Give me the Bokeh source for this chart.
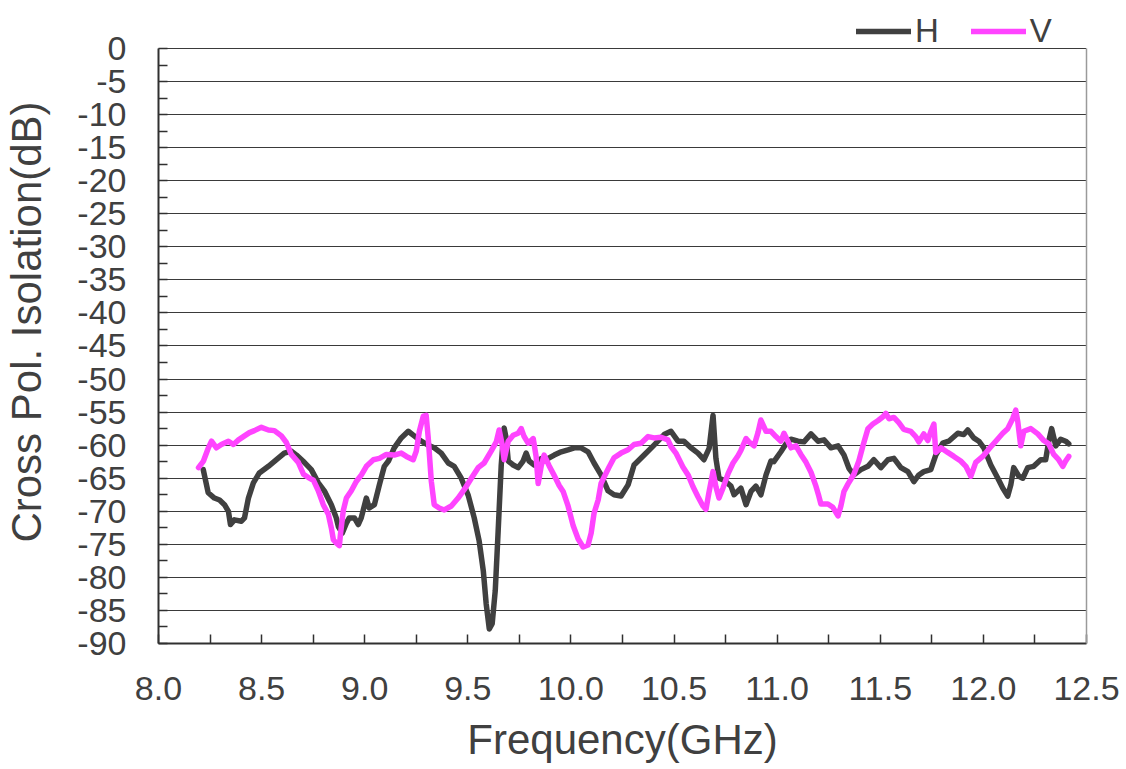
from bokeh.plotting import figure
from bokeh.models import FixedTicker, Range1d, Legend, LegendItem, LinearAxis
from bokeh.embed import file_html
from bokeh.resources import INLINE

# ---- data ----
h_freq = [8.217, 8.241, 8.271, 8.296, 8.320, 8.339, 8.349, 8.368, 8.402, 8.417, 8.436, 8.460, 8.489, 8.533,
          8.572, 8.610, 8.644, 8.669, 8.707, 8.741, 8.775, 8.804, 8.838, 8.862, 8.872, 8.891, 8.911, 8.925,
          8.950, 8.969, 8.983, 9.008, 9.022, 9.047, 9.071, 9.095, 9.115, 9.143, 9.177, 9.211, 9.240, 9.274,
          9.308, 9.337, 9.371, 9.405, 9.434, 9.468, 9.502, 9.531, 9.555, 9.575, 9.589, 9.604, 9.618, 9.633,
          9.647, 9.662, 9.676, 9.686, 9.696, 9.720, 9.744, 9.768, 9.783, 9.797, 9.822, 9.856, 9.890, 9.919,
          9.953, 9.986, 10.016, 10.049, 10.083, 10.112, 10.146, 10.180, 10.209, 10.243, 10.277, 10.306,
          10.355, 10.403, 10.452, 10.485, 10.519, 10.548, 10.582, 10.616, 10.645, 10.670, 10.689, 10.703,
          10.718, 10.742, 10.776, 10.791, 10.824, 10.849, 10.873, 10.897, 10.921, 10.946, 10.970, 10.984,
          11.018, 11.043, 11.067, 11.101, 11.130, 11.164, 11.198, 11.227, 11.261, 11.295, 11.324, 11.348,
          11.372, 11.406, 11.440, 11.469, 11.503, 11.537, 11.566, 11.600, 11.634, 11.663, 11.687, 11.711,
          11.745, 11.769, 11.803, 11.832, 11.876, 11.905, 11.924, 11.953, 11.978, 12.002, 12.036, 12.070,
          12.094, 12.118, 12.133, 12.147, 12.172, 12.191, 12.215, 12.244, 12.278, 12.302, 12.317, 12.331,
          12.351, 12.375, 12.399, 12.414]
h_db = [-63.7, -67.2, -68.0, -68.3, -69.0, -70.0, -72.0, -71.3, -71.5, -71.0, -68.0, -65.7, -64.2, -63.2,
        -62.2, -61.2, -60.9, -61.5, -62.6, -63.7, -65.7, -66.9, -69.0, -71.0, -72.3, -73.3, -71.8, -71.0,
        -71.0, -72.0, -71.0, -68.0, -69.5, -69.0, -66.0, -63.2, -62.4, -60.4, -58.9, -57.9, -58.6, -59.4,
        -60.0, -60.4, -61.2, -62.7, -63.2, -65.0, -67.6, -71.0, -74.5, -79.0, -84.0, -87.8, -87.0, -82.0,
        -73.0, -63.0, -57.4, -59.0, -62.4, -63.0, -63.4, -62.4, -61.2, -62.4, -63.0, -62.0, -62.0, -61.5,
        -61.0, -60.7, -60.4, -60.4, -61.0, -62.7, -64.5, -66.9, -67.5, -67.7, -66.0, -63.0,
        -61.5, -60.0, -58.4, -57.9, -59.4, -59.4, -60.4, -61.2, -62.2, -60.5, -55.5, -62.0,
        -65.0, -65.3, -66.2, -67.5, -66.5, -69.0, -67.0, -66.2, -67.5, -64.5, -62.4, -62.5,
        -61.0, -59.8, -59.1, -59.4, -59.5, -58.3, -59.4, -59.2, -60.4, -60.1, -61.5, -63.5,
        -64.5, -63.7, -63.2, -62.2, -63.4, -62.2, -62.0, -63.4, -64.0, -65.5, -64.5, -64.0,
        -63.7, -61.5, -59.7, -59.4, -58.2, -58.4, -57.7, -58.9, -59.4, -60.4, -63.0, -65.0,
        -66.5, -67.7, -66.0, -63.4, -64.7, -65.0, -63.4, -63.2, -62.2, -62.2, -59.4, -57.5,
        -60.1, -59.1, -59.4, -59.8]

v_freq = [8.194, 8.218, 8.242, 8.257, 8.281, 8.305, 8.339, 8.363, 8.388, 8.417, 8.441, 8.465, 8.499, 8.533,
          8.562, 8.596, 8.620, 8.644, 8.678, 8.703, 8.727, 8.751, 8.775, 8.799, 8.824, 8.838, 8.848, 8.862,
          8.877, 8.882, 8.896, 8.911, 8.935, 8.959, 8.984, 9.008, 9.042, 9.071, 9.105, 9.143, 9.177, 9.202,
          9.235, 9.250, 9.265, 9.284, 9.298, 9.308, 9.323, 9.337, 9.361, 9.386, 9.420, 9.453, 9.483, 9.517,
          9.550, 9.579, 9.613, 9.638, 9.652, 9.667, 9.676, 9.696, 9.720, 9.744, 9.759, 9.773, 9.793, 9.817,
          9.831, 9.841, 9.856, 9.870, 9.894, 9.919, 9.943, 9.962, 9.986, 10.011, 10.035, 10.059, 10.083,
          10.098, 10.112, 10.132, 10.146, 10.161, 10.185, 10.209, 10.243, 10.277, 10.306, 10.340, 10.374,
          10.403, 10.437, 10.470, 10.485, 10.509, 10.543, 10.568, 10.592, 10.616, 10.640, 10.655, 10.669,
          10.689, 10.703, 10.718, 10.737, 10.762, 10.786, 10.810, 10.824, 10.849, 10.863, 10.888, 10.907,
          10.921, 10.946, 10.970, 10.994, 11.018, 11.033, 11.052, 11.067, 11.091, 11.115, 11.140, 11.164,
          11.188, 11.202, 11.212, 11.246, 11.270, 11.295, 11.309, 11.324, 11.343, 11.372, 11.396, 11.416,
          11.440, 11.464, 11.488, 11.513, 11.527, 11.542, 11.566, 11.590, 11.614, 11.648, 11.672, 11.687,
          11.711, 11.731, 11.745, 11.760, 11.769, 11.794, 11.827, 11.857, 11.890, 11.915, 11.939, 11.963,
          11.997, 12.026, 12.060, 12.094, 12.118, 12.142, 12.157, 12.167, 12.181, 12.196, 12.230, 12.264,
          12.293, 12.317, 12.341, 12.365, 12.385, 12.399, 12.414]
v_db = [-63.4, -62.4, -60.4, -59.4, -60.4, -59.9, -59.4, -59.9, -59.2, -58.6, -58.1, -57.8, -57.3, -57.7,
        -57.8, -58.6, -59.6, -61.4, -62.6, -64.4, -64.9, -65.3, -66.9, -69.0, -70.5, -72.5, -74.3, -74.8,
        -75.2, -73.6, -69.9, -68.0, -66.9, -65.5, -64.5, -63.2, -62.2, -62.0, -61.4, -61.5, -61.2, -61.7,
        -62.2, -60.9, -57.9, -55.6, -55.5, -58.9, -65.5, -69.0, -69.5, -69.8, -69.2, -68.0, -66.7, -65.0,
        -63.4, -62.7, -60.9, -59.5, -57.7, -60.0, -62.2, -59.4, -58.5, -58.2, -57.5, -58.7, -59.7, -59.0,
        -61.7, -65.8, -63.1, -61.5, -63.1, -64.6, -66.1, -67.0, -69.2, -72.2, -74.2, -75.4, -75.1,
        -73.3, -70.3, -68.3, -65.8, -64.8, -63.3, -61.9, -61.2, -60.7, -59.9, -59.7, -58.7,
        -58.9, -58.8, -59.2, -60.2, -61.2, -63.3, -64.5, -66.3, -67.8, -69.2, -69.7, -67.2,
        -64.0, -66.3, -68.0, -66.5, -64.3, -62.7, -61.6, -60.8, -59.0, -59.5, -60.1, -58.1,
        -56.2, -57.9, -57.9, -58.7, -59.4, -58.2, -59.4, -60.4, -60.1, -61.4, -62.6, -64.1,
        -66.2, -67.7, -68.9, -68.9, -69.4, -70.7, -69.2, -67.0, -65.9, -64.4, -62.4, -60.1,
        -57.5, -56.8, -56.3, -55.7, -55.2, -56.0, -55.8, -56.6, -57.6, -57.9, -58.7, -59.5,
        -58.3, -59.3, -57.9, -56.8, -61.1, -60.4, -61.1, -61.7, -62.4, -63.2, -64.7, -62.6,
        -61.7, -60.6, -59.4, -58.2, -57.5, -56.0, -54.7, -56.5, -60.1, -57.9, -57.5, -58.3,
        -59.3, -59.8, -61.4, -62.2, -63.2, -62.4, -61.7]

series_names = ["H", "V"]
x_ticks = [8.0, 8.5, 9.0, 9.5, 10.0, 10.5, 11.0, 11.5, 12.0, 12.5]
x_tick_labels = ["8.0", "8.5", "9.0", "9.5", "10.0", "10.5", "11.0", "11.5", "12.0", "12.5"]
x_minor = [8.25, 8.75, 9.25, 9.75, 10.25, 10.75, 11.25, 11.75, 12.25]
y_ticks = [0, -5, -10, -15, -20, -25, -30, -35, -40, -45, -50, -55, -60, -65, -70, -75, -80, -85, -90]
y_tick_labels = [str(t) for t in y_ticks]
y_minor = [-2.5 - 5 * i for i in range(18)]

FONT = "Liberation Sans"
TXT = "#404040"

# the frame is extended above 0 dB so that the legend (drawn above the grid) is not clipped
p = figure(width=1120, height=765, output_backend="svg", toolbar_location=None,
           x_range=Range1d(8.0, 12.5), y_range=Range1d(-90, 7.26),
           min_border_left=157, min_border_right=34, min_border_top=0, min_border_bottom=122)
p.background_fill_color = "white"
p.border_fill_color = "white"
p.outline_line_color = None

p.xgrid.visible = False
p.ygrid.ticker = FixedTicker(ticks=y_ticks)
p.ygrid.grid_line_color = "#3a3a3a"
p.ygrid.grid_line_width = 1.2

p.xaxis.ticker = FixedTicker(ticks=x_ticks, minor_ticks=x_minor)
p.xaxis.major_label_overrides = {t: l for t, l in zip(x_ticks, x_tick_labels)}
p.yaxis.ticker = FixedTicker(ticks=y_ticks, minor_ticks=y_minor)
p.yaxis.major_label_overrides = {t: l for t, l in zip(y_ticks, y_tick_labels)}
p.yaxis.bounds = (-90, 0)

for ax in (p.xaxis, p.yaxis):
    ax.axis_line_color = "#303030"
    ax.axis_line_width = 2
    ax.major_tick_line_color = "#303030"
    ax.minor_tick_line_color = "#303030"
    ax.major_tick_line_width = 1.5
    ax.minor_tick_line_width = 1.5
    ax.major_tick_in = 9
    ax.major_tick_out = 0
    ax.minor_tick_in = 9
    ax.minor_tick_out = 0
    ax.major_label_text_font = FONT
    ax.major_label_text_font_size = "34px"
    ax.major_label_text_color = TXT
    ax.axis_label_text_font = FONT
    ax.axis_label_text_font_size = "42px"
    ax.axis_label_text_color = TXT
    ax.axis_label_text_font_style = "normal"

p.xaxis.axis_label = "Frequency(GHz)"
p.yaxis.axis_label = "Cross Pol. Isolation(dB)"
p.xaxis.major_label_standoff = 33
p.yaxis.major_label_standoff = 32
p.xaxis.axis_label_standoff = 13
p.yaxis.axis_label_standoff = 24

# right border of the plot area
right_border = LinearAxis(ticker=FixedTicker(ticks=[]), bounds=(-90, 0),
                          axis_line_color="#9a9a9a", axis_line_width=1.5,
                          major_tick_line_color=None, minor_tick_line_color=None)
p.add_layout(right_border, "right")

rh = p.line(h_freq, h_db, line_color="#404040", line_width=5.5, line_join="round", line_cap="round")
rv = p.line(v_freq, v_db, line_color="#FF44FF", line_width=5.5, line_join="round", line_cap="round")

legend = Legend(items=[LegendItem(label=series_names[0], renderers=[rh]),
                       LegendItem(label=series_names[1], renderers=[rv])],
                orientation="horizontal", location=(698, 593),
                padding=0, margin=0, spacing=32, label_standoff=4,
                glyph_width=55, glyph_height=30,
                label_text_font=FONT, label_text_font_size="33px", label_text_color=TXT,
                border_line_color=None, background_fill_alpha=0)
p.add_layout(legend, "center")

open("out.html", "w").write(file_html(p, INLINE))
